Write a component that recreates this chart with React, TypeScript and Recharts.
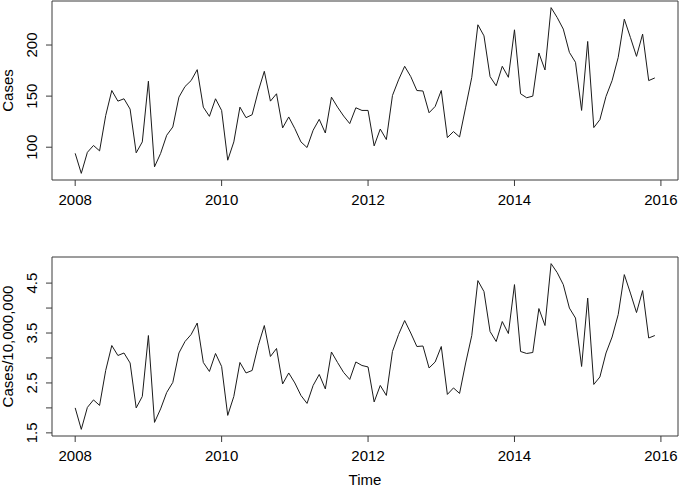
import React from 'react';
import { LineChart, Line, XAxis, YAxis, ReferenceArea } from 'recharts';

// monthly series, Jan 2008 .. Dec 2015
const cases = [
  94, 74.4, 95, 101.7, 96.4, 131, 155.5, 145.1, 147.4, 137.3, 94.5, 105.2,
  164.6, 80.8, 93.9, 111.7, 119.8, 149, 159.4, 165.2, 175.9, 139.2, 130.2, 147.4,
  136, 87.3, 105.2, 139.2, 128.9, 131.8, 154.8, 174.3, 145.1, 152.3, 118.9, 129.6,
  118.2, 105.2, 99.7, 116.6, 127.3, 113.9, 149, 139.2, 130.5, 123.1, 138.6, 136,
  136, 101.3, 117.8, 107.5, 150.6, 165.9, 179.2, 169.1, 155.5, 155, 133.7, 139.9,
  155.5, 109.4, 115.3, 110, 139.2, 168.4, 219.8, 209, 169.1, 160.1, 179.2, 168.4,
  214.9, 152.3, 148.4, 150, 192.2, 175.6, 236.6, 226.9, 215.6, 192.8, 183.1, 136,
  203.5, 119.2, 127, 149.7, 165.2, 187.9, 225.3, 207.4, 188.9, 210.7, 165.2, 167.8,
];

const rates = [
  2.0, 1.57, 2.01, 2.16, 2.05, 2.75, 3.25, 3.05, 3.1, 2.9, 2.0, 2.23,
  3.45, 1.71, 1.98, 2.31, 2.51, 3.1, 3.33, 3.47, 3.7, 2.91, 2.73, 3.09,
  2.83, 1.85, 2.23, 2.91, 2.7, 2.75, 3.25, 3.65, 3.03, 3.19, 2.48, 2.7,
  2.5, 2.25, 2.09, 2.45, 2.67, 2.38, 3.12, 2.91, 2.71, 2.57, 2.92, 2.85,
  2.82, 2.12, 2.45, 2.25, 3.13, 3.47, 3.75, 3.5, 3.23, 3.24, 2.8, 2.92,
  3.23, 2.27, 2.4, 2.29, 2.9, 3.45, 4.55, 4.33, 3.53, 3.33, 3.73, 3.49,
  4.47, 3.13, 3.09, 3.11, 3.99, 3.65, 4.89, 4.71, 4.47, 4.0, 3.8, 2.83,
  4.2, 2.47, 2.62, 3.1, 3.42, 3.87, 4.67, 4.3, 3.91, 4.35, 3.4, 3.45,
];

const startYear = 2008;
const yearTicks = [2008, 2010, 2012, 2014, 2016];
const caseTicks = [100, 150, 200];
const rateTicks = [1.5, 2, 2.5, 3, 3.5, 4, 4.5];
const rateLabels = [1.5, 2.5, 3.5, 4.5];

const data = cases.map((c, i) => ({ t: startYear + i / 12, cases: c, rate: rates[i] }));

// R style 4% axis extension
function pad(vals: number[]): [number, number] {
  const lo = Math.min(...vals);
  const hi = Math.max(...vals);
  const d = (hi - lo) * 0.04;
  return [lo - d, hi + d];
}

const xDomain = pad(data.map((d) => d.t));
const FONT = '"Liberation Sans", Arial, sans-serif';
const INK = '#3a3a3a';

const XTick = ({ x, y, payload }: any) => (
  <text x={x} y={y + 12} dy="0.35em" textAnchor="middle" fontSize={15} fontFamily={FONT} fill="#000">
    {payload.value}
  </text>
);

const makeYTick = (shown?: number[]) => ({ x, y, payload }: any) => {
  if (shown && !shown.includes(payload.value)) return <g />;
  const cx = 32;
  return (
    <text x={cx} y={y} dy="0.35em" transform={`rotate(-90, ${cx}, ${y})`} textAnchor="middle"
      fontSize={15} fontFamily={FONT} fill="#000">
      {payload.value}
    </text>
  );
};

interface PanelProps {
  dataKey: string;
  ticks: number[];
  labels?: number[];
  yTitle: string;
  xTitle?: string;
  height: number;
  marginTop: number;
  xAxisHeight: number;
}

function Panel({ dataKey, ticks, labels, yTitle, xTitle, height, marginTop, xAxisHeight }: PanelProps) {
  const yDomain = pad(data.map((d: any) => d[dataKey]));
  return (
    <LineChart width={679} height={height} data={data} margin={{ top: marginTop, right: 1, bottom: 0, left: 0 }}>
      <XAxis
        dataKey="t"
        type="number"
        domain={xDomain}
        ticks={yearTicks}
        interval={0}
        allowDataOverflow
        height={xAxisHeight}
        axisLine={false}
        tickLine={{ stroke: INK }}
        tickSize={6}
        tick={<XTick />}
        label={
          xTitle
            ? {
                content: ({ viewBox }: any) => (
                  <text x={viewBox.x + viewBox.width / 2} y={viewBox.y + 44} dy="0.35em" textAnchor="middle"
                    fontSize={15} fontFamily={FONT} fill="#000">
                    {xTitle}
                  </text>
                ),
              }
            : undefined
        }
      />
      <YAxis
        type="number"
        domain={yDomain}
        ticks={ticks}
        interval={0}
        allowDataOverflow
        width={52}
        axisLine={false}
        tickLine={{ stroke: INK }}
        tickSize={6}
        tick={makeYTick(labels)}
        label={{
          content: ({ viewBox }: any) => {
            const cx = 7.5;
            const cy = viewBox.y + viewBox.height / 2;
            return (
              <text x={cx} y={cy} dy="0.35em" transform={`rotate(-90, ${cx}, ${cy})`} textAnchor="middle"
                fontSize={15} fontFamily={FONT} fill="#000">
                {yTitle}
              </text>
            );
          },
        }}
      />
      <ReferenceArea x1={xDomain[0]} x2={xDomain[1]} y1={yDomain[0]} y2={yDomain[1]}
        fill="none" fillOpacity={0} stroke={INK} strokeWidth={1} />
      <Line type="linear" dataKey={dataKey} stroke="#1a1a1a" strokeWidth={1} dot={false} isAnimationActive={false} />
    </LineChart>
  );
}

export default function App() {
  return (
    <div style={{ position: 'absolute', left: 0, top: 0, width: 679, height: 486, background: '#fff' }}>
      <Panel dataKey="cases" ticks={caseTicks} yTitle="Cases" height={243} marginTop={1} xAxisHeight={63} />
      <Panel dataKey="rate" ticks={rateTicks} labels={rateLabels} yTitle="Cases/10,000,000" xTitle="Time"
        height={243} marginTop={14} xAxisHeight={50} />
    </div>
  );
}
